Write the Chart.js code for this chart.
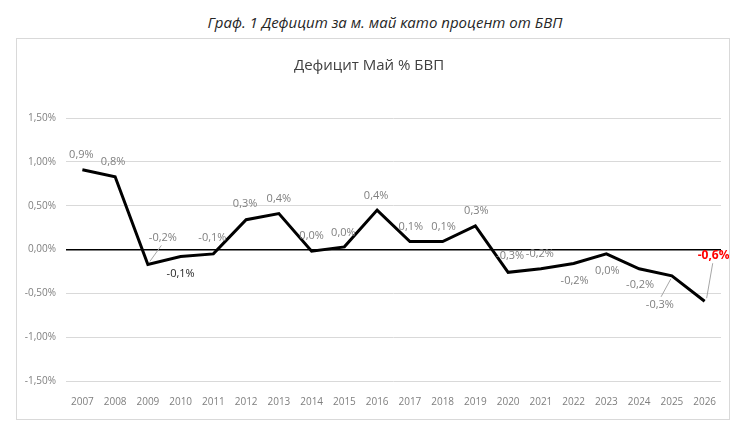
<!DOCTYPE html>
<html>
<head>
<meta charset="utf-8">
<script src="https://cdn.jsdelivr.net/npm/chart.js@4"></script>
<style>
  html, body { margin: 0; padding: 0; background: #fff; }
  body { width: 740px; height: 430px; position: relative; overflow: hidden; }
  #caption {
    position: absolute; left: 0; top: 12px; width: 770px; text-align: center;
    font: italic 15px 'Open Sans', sans-serif; color: #262626;
  }
  #box {
    position: absolute; left: 16px; top: 38px; width: 714px; height: 382px;
    border: 1px solid #d9d9d9; box-sizing: border-box;
  }
</style>
</head>
<body>
<div id="caption">Граф. 1 Дефицит за м. май като процент от БВП</div>
<div id="box"><canvas id="chart"></canvas></div>
<script>
/* ── DATA ── */
const years = ['2007', '2008', '2009', '2010', '2011', '2012', '2013', '2014', '2015', '2016',
               '2017', '2018', '2019', '2020', '2021', '2022', '2023', '2024', '2025', '2026'];
const deficit = [0.91, 0.83, -0.17, -0.08, -0.05, 0.34, 0.41, -0.02, 0.03, 0.45,
                 0.09, 0.09, 0.27, -0.26, -0.22, -0.16, -0.05, -0.22, -0.30, -0.59];
const pointLabels = ['0,9%', '0,8%', '-0,2%', '-0,1%', '-0,1%', '0,3%', '0,4%', '0,0%', '0,0%', '0,4%',
                     '0,1%', '0,1%', '0,3%', '-0,3%', '-0,2%', '-0,2%', '0,0%', '-0,2%', '-0,3%', '-0,6%'];
const yTicks = [1.5, 1.0, 0.5, 0, -0.5, -1.0, -1.5];

// label placement relative to the point: [dx, dy], plus optional leader line
const labelOffsets = {
  0: [-1, -15], 1: [-2, -15], 2: [15, -27], 3: [0, 17], 4: [-1, -16],
  5: [-1, -16], 6: [0, -15], 7: [0, -15], 8: [-1, -14], 9: [-1, -14],
  10: [1, -15], 11: [1, -15], 12: [1, -15], 13: [2, -16], 14: [-1, -15],
  15: [1, 17], 16: [1, 17], 17: [1, 16], 18: [-12, 29], 19: [9, -46],
};
const leaders = { 2: true, 18: true, 19: true };

const fmtPct = v => v.toFixed(2).replace('.', ',') + '%';

/* ── DATA LABELS PLUGIN ── */
const pointLabelPlugin = {
  id: 'pointLabels',
  afterDatasetsDraw(chart) {
    const { ctx } = chart;
    const meta = chart.getDatasetMeta(0);
    ctx.save();
    ctx.textAlign = 'center';
    ctx.textBaseline = 'middle';
    meta.data.forEach((pt, i) => {
      const [dx, dy] = labelOffsets[i] || [0, -15];
      const lx = pt.x + dx, ly = pt.y + dy;
      if (leaders[i]) {
        ctx.strokeStyle = '#a6a6a6';
        ctx.lineWidth = 1;
        ctx.beginPath();
        const dir = dy < 0 ? 1 : -1;
        ctx.moveTo(pt.x + (dx > 0 ? 2 : -1), pt.y - dir * 3);
        ctx.lineTo(lx - dx * 0.1, ly + dir * 8);
        ctx.stroke();
      }
      if (i === deficit.length - 1) {
        ctx.font = 'bold 12px "Open Sans", sans-serif';
        ctx.fillStyle = '#ff0000';
      } else if (i === 3) {
        ctx.font = '11px "Open Sans", sans-serif';
        ctx.fillStyle = '#262626';
      } else {
        ctx.font = '11px "Open Sans", sans-serif';
        ctx.fillStyle = '#7f7f7f';
      }
      ctx.fillText(pointLabels[i], lx, ly);
    });
    ctx.restore();
  }
};

/* ── CHART ── */
new Chart(document.getElementById('chart'), {
  type: 'line',
  data: {
    labels: years,
    datasets: [{
      data: deficit,
      borderColor: '#000',
      borderWidth: 3,
      pointRadius: 0,
      tension: 0,
      fill: false,
    }],
  },
  options: {
    responsive: true, maintainAspectRatio: false,
    animation: false,
    layout: { padding: { left: 0, right: 8, top: 0, bottom: 0 } },
    plugins: {
      legend: { display: false },
      tooltip: { enabled: false },
      title: {
        display: true,
        text: 'Дефицит Май % БВП',
        color: '#404040',
        font: { family: 'Open Sans', size: 15, weight: 'normal' },
        padding: { top: 18, bottom: 43 },
      },
    },
    scales: {
      x: {
        offset: true,
        grid: { display: false },
        border: { display: false },
        ticks: { color: '#7f7f7f', font: { family: 'Open Sans', size: 10 }, padding: 7, maxRotation: 0, autoSkip: false },
        afterFit: s => { s.height = 38; },
      },
      y: {
        min: -1.5, max: 1.5,
        afterBuildTicks: s => { s.ticks = yTicks.map(v => ({ value: v })); },
        grid: {
          color: c => c.tick && c.tick.value === 0 ? '#000' : '#d9d9d9',
          lineWidth: c => c.tick && c.tick.value === 0 ? 1.5 : 1,
          drawTicks: false,
        },
        border: { display: false },
        ticks: { color: '#7f7f7f', font: { family: 'Open Sans', size: 10 }, padding: 10, callback: v => fmtPct(v) },
        afterFit: s => { s.width = 49; },
      },
    },
  },
  plugins: [pointLabelPlugin],
});
</script>
</body>
</html>
